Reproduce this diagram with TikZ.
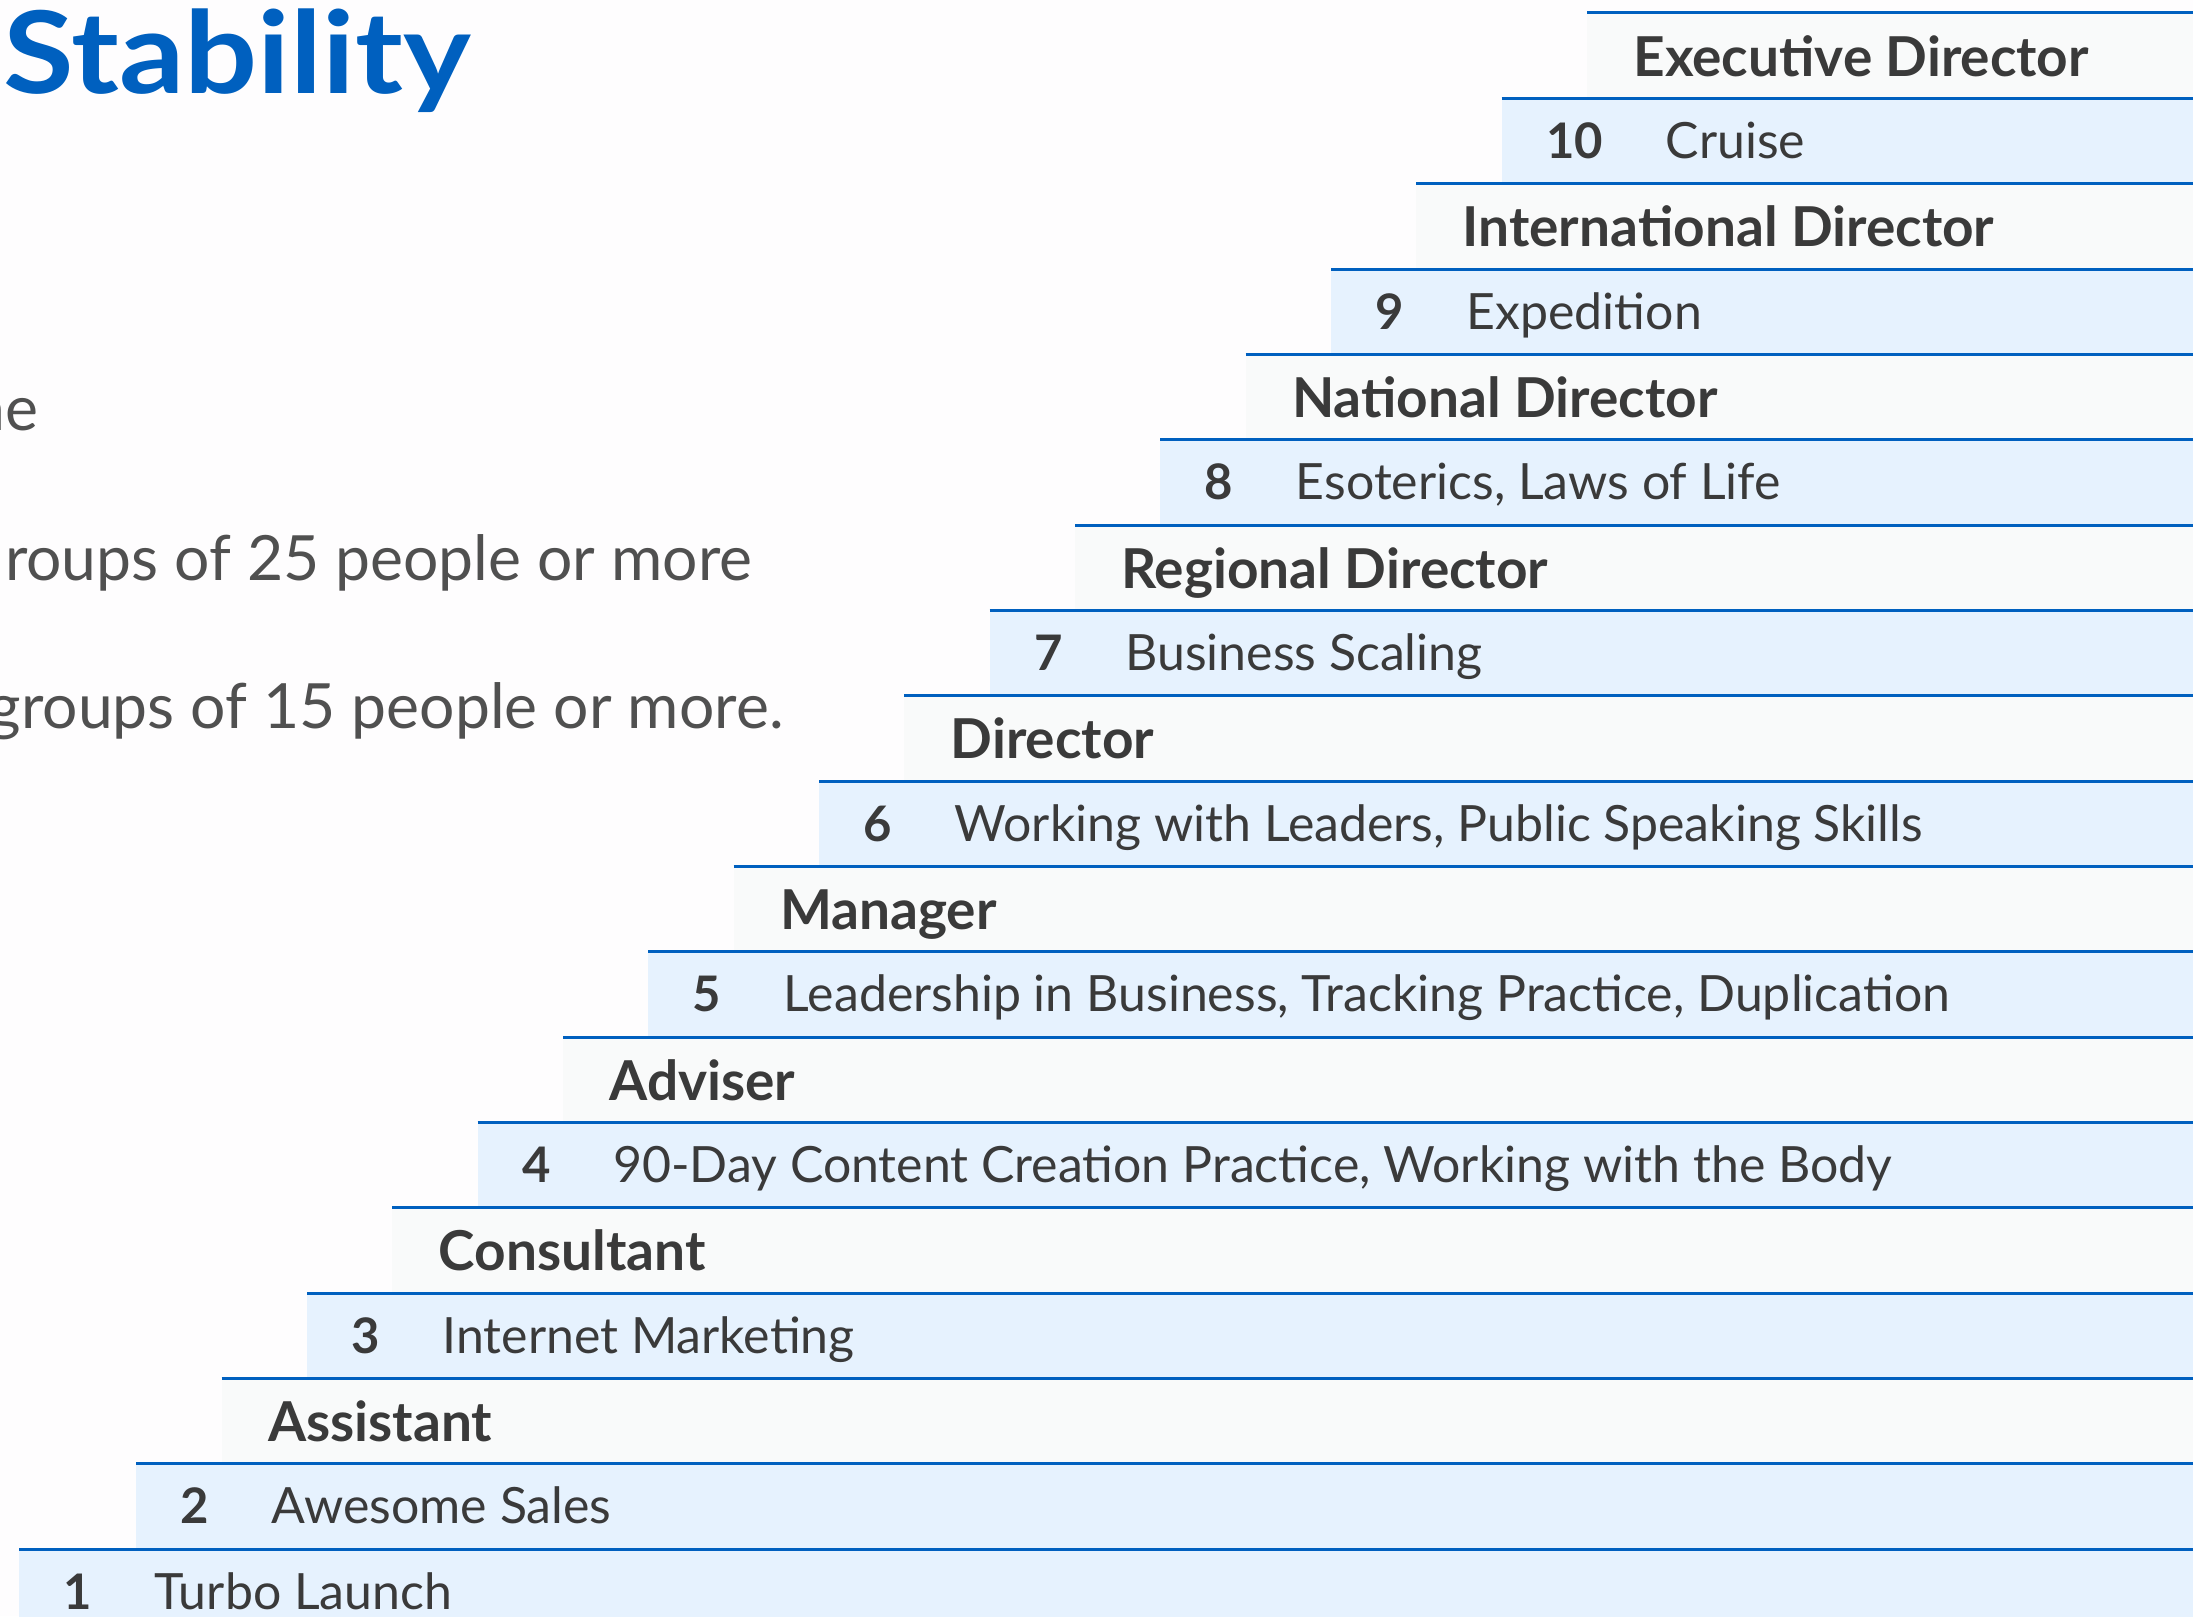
\documentclass[tikz,border=0pt]{standalone}
\usepackage{graphicx}
\usepackage{fontspec}
\setmainfont{Lato}
\definecolor{bandblue}{HTML}{0060BF}
\definecolor{lightband}{HTML}{E6F2FE}
\definecolor{greyband}{HTML}{F9FAFA}
\definecolor{pagebg}{HTML}{FEFDFE}
\definecolor{rowink}{HTML}{3A3A3A}
\definecolor{sideink}{HTML}{505050}
\tikzset{
  bandline/.style={draw=bandblue,line width=1.5pt},
  titletext/.style={anchor=base west,inner sep=0pt,text=rowink,font=\fontsize{27.5}{33}\selectfont\bfseries},
  numtext/.style={anchor=base west,inner sep=0pt,text=rowink,font=\fontsize{24.5}{30}\selectfont\bfseries},
  lessontext/.style={anchor=base west,inner sep=0pt,text=rowink,font=\fontsize{25}{30}\selectfont},
  sidetext/.style={anchor=base east,inner sep=0pt,text=sideink,font=\fontsize{31.2}{37}\selectfont},
  headtext/.style={anchor=base west,inner sep=0pt,text=bandblue,font=\fontsize{57}{66}\selectfont\bfseries}
}
\newcommand{\titleband}[3]{%
  \pgfmathsetmacro\bx{1587-#1*85.333}%
  \pgfmathsetmacro\by{13+#1*85.333}%
  \pgfmathsetmacro\bb{13+(#1+1)*85.333}%
  \fill[greyband] (\bx,\by) rectangle (2193,\bb);
  \draw[bandline] (\bx,\by) -- (2193,\by);
  \node[titletext] (#2) at (\bx+46,\by+63) {#3};
}
\newcommand{\lessonband}[5]{%
  \pgfmathsetmacro\bx{#2}%
  \pgfmathsetmacro\by{13+#1*85.333}%
  \pgfmathsetmacro\bb{13+(#1+1)*85.333}%
  \fill[lightband] (\bx,\by) rectangle (2193,\bb);
  \draw[bandline] (\bx,\by) -- (2193,\by);
  \node[numtext] (#3n) at (\bx+44,\by+60) {#4};
  \node[lessontext] (#3t) at ([xshift=31pt]#3n.base east) {#5};
}
\begin{document}
\begin{tikzpicture}[x=0.5pt,y=-0.5pt]
\useasboundingbox (0,0) rectangle (2193,1616);
\clip (0,0) rectangle (2193,1616);
\fill[pagebg] (0,0) rectangle (2193,1616);

\node[headtext] (head) at (3,94) {\scalebox{1.13}[1]{Stability}};
\node[sidetext] (sideA) at (39,430) {ne};
\node[sidetext] (sideB) at (753,580) {roups of 25 people or more};
\node[sidetext] (sideC) at (784,728) {groups of 15 people or more.};

\titleband{0}{rankA}{Executive Director}
\lessonband{1}{1501.667}{lessA}{10}{Cruise}
\titleband{2}{rankB}{International Director}
\lessonband{3}{1331}{lessB}{9}{Expedition}
\titleband{4}{rankC}{National Director}
\lessonband{5}{1160.333}{lessC}{8}{Esoterics, Laws of Life}
\titleband{6}{rankD}{Regional Director}
\lessonband{7}{989.667}{lessD}{7}{Business Scaling}
\titleband{8}{rankE}{Director}
\lessonband{9}{819}{lessE}{6}{Working with Leaders, Public Speaking Skills}
\titleband{10}{rankF}{Manager}
\lessonband{11}{648.333}{lessF}{5}{Leadership in Business, Tracking Practice, Duplication}
\titleband{12}{rankG}{Adviser}
\lessonband{13}{477.667}{lessG}{4}{90-Day Content Creation Practice, Working with the Body}
\titleband{14}{rankH}{Consultant}
\lessonband{15}{307}{lessH}{3}{Internet Marketing}
\titleband{16}{rankI}{Assistant}
\lessonband{17}{136.333}{lessI}{2}{Awesome Sales}
\lessonband{18}{19}{lessJ}{1}{Turbo Launch}
\end{tikzpicture}
\end{document}
